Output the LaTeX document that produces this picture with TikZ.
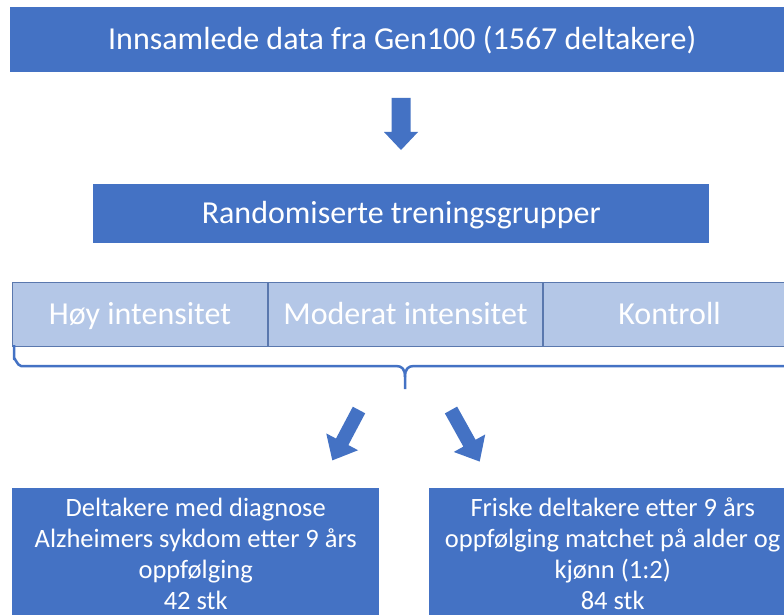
\documentclass[tikz,border=0pt]{standalone}
\usepackage{fontspec}
\setmainfont{Carlito}
\definecolor{dblue}{HTML}{4472C4}
\definecolor{lblue}{HTML}{B4C7E7}
\definecolor{lborder}{HTML}{5A78AE}
\newcommand\blockarr[7]{\fill[dblue,shift={(#1,#2)},rotate=#3] (0,-#5)--(#4-#7,-#5)--(#4-#7,-#6)--(#4,0)--(#4-#7,#6)--(#4-#7,#5)--(0,#5)--cycle;}
\begin{document}
\begin{tikzpicture}[x=1pt,y=-1pt,
  darkbox/.style={fill=dblue,draw=none,text=white,inner sep=0pt,align=center,anchor=north west},
  bigfont/.style={font=\fontsize{32}{38}\selectfont,text height=24pt,text depth=4pt},
  lightbox/.style={fill=lblue,draw=lborder,line width=1pt,text=white,inner sep=0pt,align=center,anchor=north west,minimum height=64pt,bigfont},
  smallfont/.style={font=\fontsize{26.5}{31}\selectfont}]
\useasboundingbox (0,0) rectangle (784,615);
\clip (0,0) rectangle (784,615);
\fill[white] (0,0) rectangle (784,615);

\node[darkbox,bigfont,minimum width=784pt,minimum height=65pt] (src) at (10,7) {Innsamlede data fra Gen100 (1567 deltakere)};
\node[darkbox,bigfont,minimum width=616pt,minimum height=59pt] (rand) at (93,184) {Randomiserte treningsgrupper};

\node[lightbox,minimum width=255pt] (hoy) at (12,282) {Høy intensitet};
\node[lightbox,minimum width=274pt] (mod) at (268,282) {Moderat intensitet};
\node[lightbox,minimum width=252pt] (kon) at (543,282) {Kontroll};

\node[darkbox,smallfont,minimum width=367pt,minimum height=132pt] (alz) at (12,488) {Deltakere med diagnose\\Alzheimers sykdom etter 9 års\\oppfølging\\42 stk};
\node[darkbox,smallfont,minimum width=367pt,minimum height=132pt] (fri) at (429,488) {Friske deltakere etter 9 års\\oppfølging matchet på alder og\\kjønn (1:2)\\84 stk};

% brace
\draw[dblue,line width=2.5pt,line join=round]
  (14,345) -- (14,359) to[out=90,in=180] (21,366) -- (396,366)
  .. controls (402,366) and (405,369) .. (405,377) -- (405,389);
\draw[dblue,line width=2.5pt,line join=round]
  (405,377) .. controls (405,369) and (408,366) .. (414,366) -- (790,366);

% block arrows
\blockarr{401}{98}{-90}{52}{9.5}{17}{18}
\blockarr{359}{410}{-117.9}{57}{7}{18}{21}
\blockarr{451}{410}{-60.9}{59}{7}{18}{21}
\end{tikzpicture}
\end{document}
